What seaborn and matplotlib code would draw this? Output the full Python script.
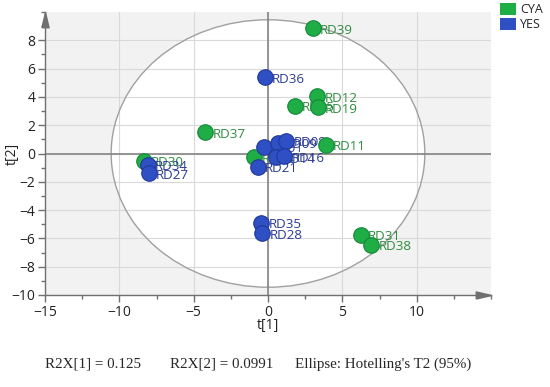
import matplotlib
matplotlib.use("Agg")
import matplotlib.pyplot as plt
from matplotlib.patches import Ellipse, Patch
from matplotlib.ticker import MultipleLocator
import seaborn as sns
import pandas as pd

# ---- data ----
labels = ["RD39", "RD12", "RD19", "RD05", "RD37", "RD11", "RD30", "RD24", "RD31", "RD38",
          "RD36", "RD34", "RD27", "RD01", "RD09", "RD08", "RD14", "RD16", "RD21", "RD35", "RD28"]
t1 = [3.03, 3.32, 3.36, 1.80, -4.21, 3.88, -8.37, -0.92, 6.23, 6.96,
      -0.19, -8.08, -8.01, -0.25, 0.64, 1.24, 0.55, 1.10, -0.70, -0.44, -0.37]
t2 = [8.87, 4.06, 3.28, 3.38, 1.49, 0.62, -0.52, -0.25, -5.75, -6.46,
      5.41, -0.80, -1.39, 0.48, 0.75, 0.90, -0.28, -0.18, -0.92, -4.88, -5.63]
group = ["CYA"] * 10 + ["YES"] * 11

groups = ["CYA", "YES"]
fill_colors = ["#1fae45", "#2f4fc4"]
edge_colors = ["#15863a", "#22389a"]
text_colors = ["#2e8b3e", "#2b3b95"]

ellipse_a = 10.55
ellipse_b = 9.45
r2x1 = "0.125"
r2x2 = "0.0991"

df = pd.DataFrame({"label": labels, "t1": t1, "t2": t2, "group": group})

sns.set_style("white")
plt.rcParams["font.family"] = ["Open Sans", "DejaVu Sans"]

fig = plt.figure(figsize=(5.5, 3.87), dpi=100)
ax = fig.add_axes([45 / 550, 1 - 295 / 387, (491 - 45) / 550, (295 - 12) / 387])
ax.set_facecolor("#f2f2f2")

ax.add_patch(Ellipse((0, 0), 2 * ellipse_a, 2 * ellipse_b, facecolor="white",
                     edgecolor="none", zorder=0.2))
ax.add_patch(Ellipse((0, 0), 2 * ellipse_a, 2 * ellipse_b, facecolor="none",
                     edgecolor="#a0a0a0", lw=1.0, zorder=1))

ax.set_axisbelow(True)
ax.grid(True, which="major", color="#d9d9d9", lw=0.8)
ax.axhline(0, color="#858585", lw=1.2, zorder=1.1)
ax.axvline(0, color="#858585", lw=1.2, zorder=1.1)

for g, fc, ec in zip(groups, fill_colors, edge_colors):
    sub = df[df.group == g]
    sns.scatterplot(data=sub, x="t1", y="t2", color=fc, edgecolor=ec, linewidth=0.8,
                    s=125, ax=ax, legend=False, zorder=3)

tc = dict(zip(groups, text_colors))
for _, r in df.iterrows():
    ax.annotate(r.label, (r.t1, r.t2), xytext=(5.0, -1.5), textcoords="offset points",
                ha="left", va="center", fontsize=9.6, color=tc[r.group], zorder=2.5)

ax.set_xlim(-15, 15)
ax.set_ylim(-10, 10)
ax.set_xticks([-15, -10, -5, 0, 5, 10])
ax.set_yticks(list(range(-10, 10, 2)))
ax.xaxis.set_minor_locator(MultipleLocator(2.5))
ax.yaxis.set_minor_locator(MultipleLocator(1))
ax.tick_params(which="major", direction="out", length=5, width=1, color="#707070",
               labelsize=10, labelcolor="#222222", pad=2, bottom=True, left=True)
ax.tick_params(which="minor", direction="out", length=3, width=1, color="#707070",
               bottom=True, left=True)
for s in ["top", "right"]:
    ax.spines[s].set_visible(False)
for s in ["left", "bottom"]:
    ax.spines[s].set_color("#707070")
    ax.spines[s].set_linewidth(1.0)

# axis arrows
up = [(-3.5, -15), (3.5, -15), (0, 0), (-3.5, -15)]
right = [(-15, -3.5), (-15, 3.5), (0, 0), (-15, -3.5)]
ax.plot([0], [1], marker=up, ms=22, color="#707070", transform=ax.transAxes, clip_on=False)
ax.plot([1], [0], marker=right, ms=22, color="#707070", transform=ax.transAxes, clip_on=False)

ax.set_xlabel("t[1]", fontsize=10, color="#222222")
ax.set_ylabel("t[2]", fontsize=10, color="#222222")
ax.xaxis.set_label_coords(0.5, -(326 - 295) / 283, transform=ax.transAxes)
ax.yaxis.set_label_coords(-(45 - 12) / 446, 0.5, transform=ax.transAxes)
ax.xaxis.label.set_va("center")
ax.yaxis.label.set_va("center")

handles = [Patch(facecolor=c, edgecolor="none") for c in fill_colors]
fig.legend(handles, groups, loc="upper left", bbox_to_anchor=(500 / 550, 1 - 3 / 387),
           frameon=False, fontsize=9, handlelength=1.3, handleheight=1.1,
           handletextpad=0.3, labelspacing=0.15, borderpad=0, borderaxespad=0)

serif = ["Liberation Serif", "DejaVu Serif"]
fy = 1 - 364 / 387
fig.text(45 / 550, fy, f"R2X[1] = {r2x1}", family=serif, fontsize=10.8, va="center")
fig.text(170 / 550, fy, f"R2X[2] = {r2x2}", family=serif, fontsize=10.8, va="center")
fig.text(295 / 550, fy, "Ellipse: Hotelling's T2 (95%)", family=serif, fontsize=10.8, va="center")

fig.savefig("out.png", dpi=100)
